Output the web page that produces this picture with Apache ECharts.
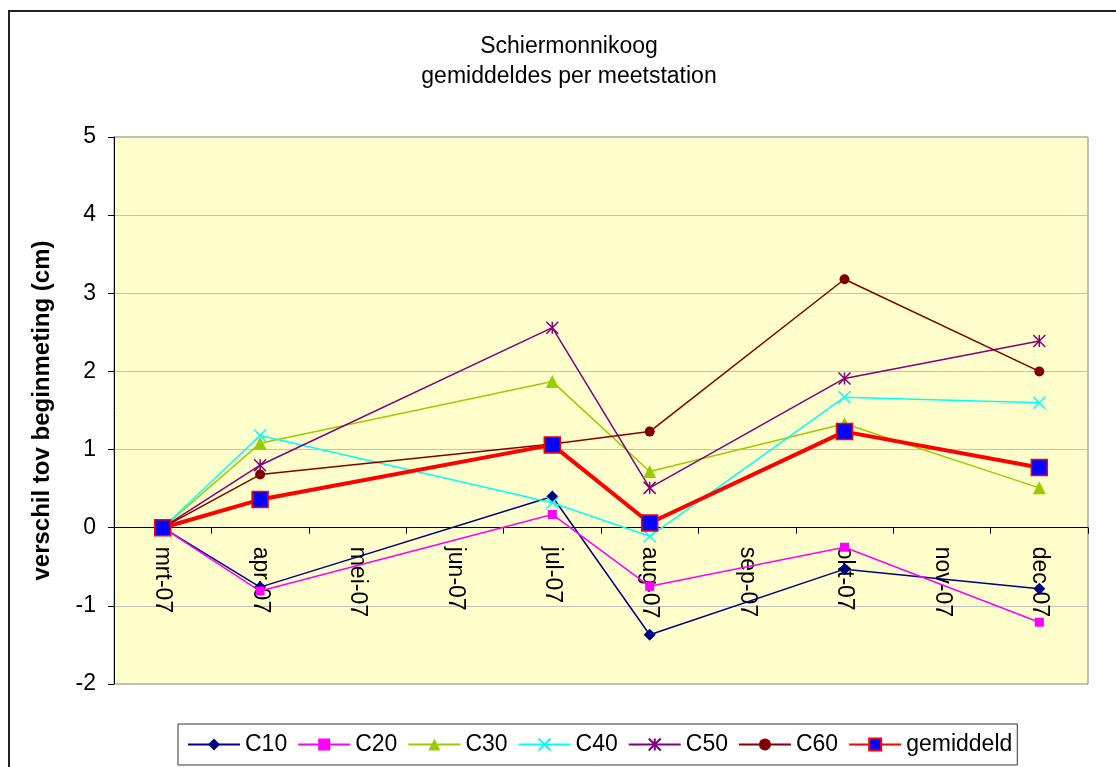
<!DOCTYPE html>
<html>
<head>
<meta charset="utf-8">
<script src="https://cdn.jsdelivr.net/npm/echarts@6/dist/echarts.min.js"></script>
<style>
  html, body { margin: 0; padding: 0; background: #fff; }
  #chart { width: 1116px; height: 767px; }
</style>
</head>
<body>
<div id="chart"></div>
<script>
// maanden (categorieen op de x-as)
var maanden = ['mrt-07', 'apr-07', 'mei-07', 'jun-07', 'jul-07', 'aug-07', 'sep-07', 'okt-07', 'nov-07', 'dec-07'];

// verschil tov beginmeting (cm) per meetstation, null = geen meting
var c10 = [0, -0.76, null, null, 0.40, -1.37, null, -0.53, null, -0.78];
var c20 = [0, -0.81, null, null, 0.17, -0.75, null, -0.25, null, -1.21];
var c30 = [0, 1.08, null, null, 1.87, 0.72, null, 1.33, null, 0.51];
var c40 = [0, 1.18, null, null, 0.32, -0.11, null, 1.67, null, 1.60];
var c50 = [0, 0.80, null, null, 2.56, 0.51, null, 1.91, null, 2.39];
var c60 = [0, 0.68, null, null, 1.07, 1.23, null, 3.18, null, 2.00];
var gemiddeld = [0, 0.36, null, null, 1.06, 0.06, null, 1.23, null, 0.77];

var yTicks = { min: -2, max: 5, interval: 1 };

var fontFam = '"Liberation Sans", Arial, sans-serif';

// kruis en ster (zoals excel) als pad
var kruis = 'path://M0,0L10,10M10,0L0,10';
var ster = 'path://M5,0L5,10M0,0L10,10M10,0L0,10';

// grid: 137..684 px, nullijn ligt 5/7 naar beneden -> as omhoog schuiven
var gridTop = 137, gridBottom = 83, gridHeight = 767 - gridTop - gridBottom;
var asOffset = -gridHeight * (0 - yTicks.min) / (yTicks.max - yTicks.min);

function lijn(naam, data, kleur, symbool, grootte, extra) {
  var s = {
    name: naam,
    type: 'line',
    data: data,
    connectNulls: true,
    symbol: symbool,
    symbolSize: grootte,
    showAllSymbol: true,
    lineStyle: { color: kleur, width: 1.5 },
    itemStyle: { color: kleur },
    emphasis: { disabled: true },
    animation: false
  };
  if (extra) {
    for (var k in extra) s[k] = extra[k];
  }
  return s;
}

var myChart = echarts.init(document.getElementById('chart'));

myChart.setOption({
  textStyle: { fontFamily: fontFam },
  graphic: [
    {
      type: 'rect',
      shape: { x: 9, y: 11, width: 1200, height: 900 },
      style: { fill: 'none', stroke: '#222', lineWidth: 2 },
      silent: true
    },
    {
      type: 'text',
      x: 569,
      y: 32,
      style: {
        text: 'Schiermonnikoog\ngemiddeldes per meetstation',
        font: '23px ' + fontFam,
        fill: '#000',
        align: 'center',
        lineHeight: 30
      },
      silent: true
    }
  ],
  grid: {
    left: 114,
    right: 28,
    top: gridTop,
    bottom: gridBottom,
    show: true,
    backgroundColor: '#FFFFCC',
    borderColor: '#808080',
    borderWidth: 1
  },
  legend: {
    left: 178,
    top: 724,
    itemWidth: 52,
    itemHeight: 15,
    itemGap: 10,
    padding: [9, 5, 9, 9],
    borderColor: '#333',
    borderWidth: 1,
    backgroundColor: '#fff',
    textStyle: { fontSize: 23, color: '#000', fontFamily: fontFam },
    data: ['C10', 'C20', 'C30', 'C40', 'C50', 'C60', 'gemiddeld']
  },
  xAxis: {
    type: 'category',
    data: maanden,
    boundaryGap: true,
    offset: asOffset,
    axisLine: { onZero: false, lineStyle: { color: '#000', width: 1 } },
    axisTick: { show: true, length: 6, lineStyle: { color: '#000' } },
    axisLabel: {
      rotate: -90,
      fontSize: 23,
      color: '#000',
      margin: 19,
      interval: 0
    },
    splitLine: { show: false }
  },
  yAxis: {
    type: 'value',
    min: yTicks.min,
    max: yTicks.max,
    interval: yTicks.interval,
    name: 'verschil tov beginmeting (cm)',
    nameLocation: 'middle',
    nameGap: 60,
    nameTextStyle: { fontSize: 24, fontWeight: 'bold', color: '#000' },
    axisLine: { show: true, lineStyle: { color: '#000', width: 1 } },
    axisTick: { show: true, length: 6, lineStyle: { color: '#000' } },
    axisLabel: { fontSize: 23, color: '#000', margin: 18 },
    splitLine: { show: true, lineStyle: { color: '#C0C0C0', width: 1 } }
  },
  series: [
    lijn('C10', c10, '#000080', 'diamond', 12),
    lijn('C20', c20, '#FF00FF', 'rect', 9),
    lijn('C30', c30, '#99CC00', 'triangle', 13),
    lijn('C40', c40, '#00FFFF', kruis, 12, {
      itemStyle: { color: '#00FFFF', borderColor: '#00FFFF', borderWidth: 1.5 }
    }),
    lijn('C50', c50, '#800080', ster, 12, {
      itemStyle: { color: '#800080', borderColor: '#800080', borderWidth: 1.5 }
    }),
    lijn('C60', c60, '#800000', 'circle', 10),
    lijn('gemiddeld', gemiddeld, '#FF0000', 'rect', 16, {
      lineStyle: { color: '#FF0000', width: 4 },
      itemStyle: { color: '#0000FF', borderColor: '#FF0000', borderWidth: 1.5 }
    })
  ]
});
</script>
</body>
</html>
